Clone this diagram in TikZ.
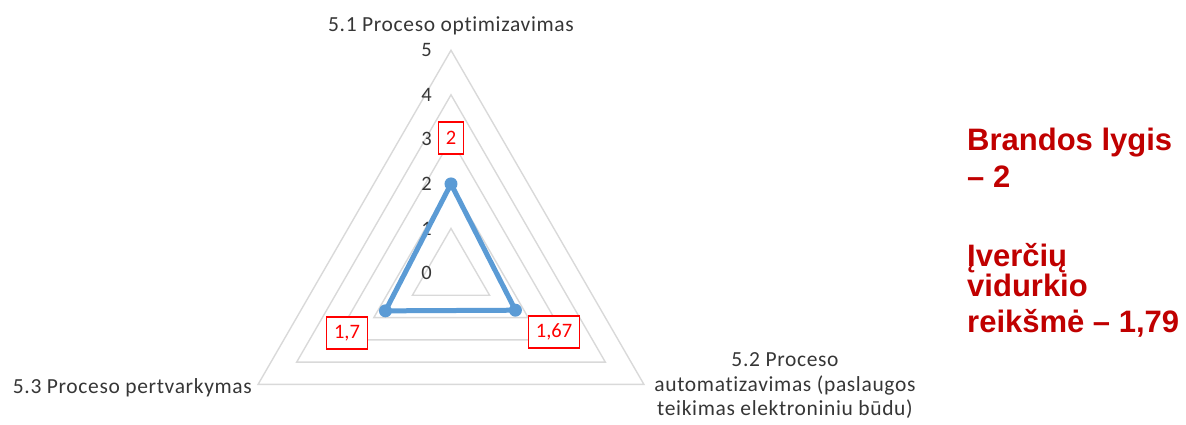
\documentclass[tikz,border=0pt]{standalone}
\usepackage{fontspec}
\setmainfont{Carlito}[Ligatures=NoCommon]
\newfontfamily\catfont{Carlito}[Ligatures=NoCommon, LetterSpace=3]
\newfontfamily\arialfont{Liberation Sans}
\definecolor{gridgray}{HTML}{D9D9D9}
\definecolor{seriesblue}{HTML}{5B9BD5}
\definecolor{labelgray}{HTML}{363636}
\definecolor{darkred}{HTML}{C00000}
\begin{document}
\begin{tikzpicture}[
        x=1pt, y=1pt,
        font=\fontsize{20.5}{24}\selectfont
    ]
    \tikzset{
        ring/.style = {draw=gridgray, line width=1.4pt},
        series/.style = {draw=seriesblue, line width=5pt, line join=round},
        marker/.style = {circle, fill=seriesblue, inner sep=0pt, minimum size=13pt},
        tick/.style = {anchor=east, text=labelgray, inner sep=0pt},
        catlabel/.style = {text=labelgray, align=center, inner sep=0pt,
            font=\catfont\fontsize{21.5}{24.5}\selectfont},
        valbox/.style = {draw=red, line width=1.3pt, fill=white, text=red,
            inner xsep=7.5pt, inner ysep=0pt, minimum height=32pt},
        summary/.style = {anchor=base west, text=darkred, inner sep=0pt,
            font=\arialfont\bfseries\fontsize{31}{36}\selectfont},
    }
    \useasboundingbox (-451,-151) rectangle (735,273);
    %
    % grid rings, one unit = 44.55pt
    \foreach \k in {1,...,5}
        \draw[ring] (90:\k*44.55) -- (210:\k*44.55) -- (330:\k*44.55) -- cycle;
    \foreach \k in {0,...,5}
        \node[tick] (t\k) at (-19,\k*44.55) {\k};
    %
    % series: 2 ; 1,67 ; 1,7
    \node[marker] at (90:89.1) (p1) {};
    \node[marker] at (330:74.4) (p2) {};
    \node[marker] at (210:75.7) (p3) {};
    \draw[series] (p1.center) -- (p2.center) -- (p3.center) -- cycle;
    %
    \node[valbox] at (0,135) (v1) {2};
    \node[valbox] at (103,-59) (v2) {1,67};
    \node[valbox] at (-104,-60) (v3) {1,7};
    %
    \node[catlabel] at (0,247) (c1) {5.1 Proceso optimizavimas};
    \node[catlabel] at (334,-113) (c2) {5.2 Proceso\\automatizavimas (paslaugos\\teikimas elektroniniu būdu)};
    \node[catlabel, anchor=east] at (-199,-115) (c3) {5.3 Proceso pertvarkymas};
    %
    \node[summary] at (516,123) (s1) {Brandos lygis};
    \node[summary] at (516,86) (s2) {– 2};
    \node[summary] at (516,7) (s3) {Įverčių};
    \node[summary] at (516,-23) (s4) {vidurkio};
    \node[summary] at (516,-59) (s5) {reikšmė – 1,79};
\end{tikzpicture}
\end{document}
